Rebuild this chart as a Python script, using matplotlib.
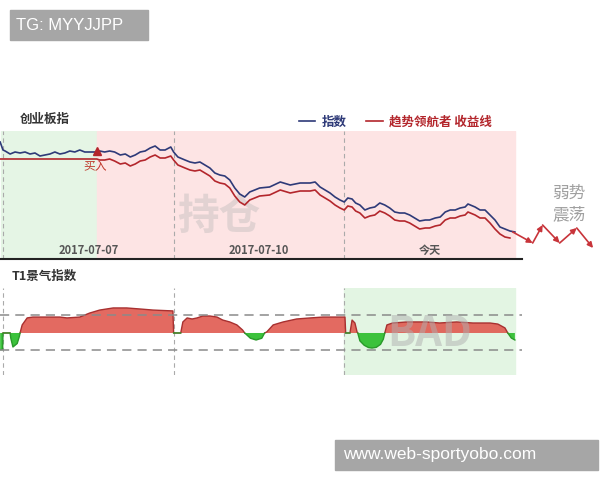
import matplotlib
matplotlib.use("Agg")
import matplotlib.pyplot as plt
import numpy as np
from matplotlib.patches import Rectangle

plt.rcParams["font.family"] = ["Noto Sans CJK SC", "DejaVu Sans"]

# minutes since the open of the first day shown (3 sessions x 240 min)
day_ticks = [120, 360, 600]
day_labels = ["2017-07-07", "2017-07-10", "今天"]
day_bounds = [0, 240, 480]
buy_minute = 132

index_t = [-4, 0, 3, 10, 17, 24, 31, 38, 45, 52, 59, 66, 73, 80, 87, 94, 101, 108, 115,
           122, 132, 136, 143, 150, 157, 165, 172, 179, 186, 193, 200, 207, 214, 221, 228,
           236, 240, 246, 256, 263, 270, 277, 284, 291, 298, 305, 312, 319, 326, 333, 340,
           347, 354, 361, 375, 390, 404, 418, 432, 439, 446, 460, 467, 474, 480, 485, 491,
           496, 502, 509, 516, 523, 530, 537, 544, 551, 558, 565, 572, 579, 586, 594, 600,
           608, 615, 622, 629, 636, 643, 650, 654, 664, 671, 678, 685, 692, 699, 706, 713, 720]
index_val = [117, 109, 108, 105, 107, 106, 107, 105, 106, 103, 104, 105, 107, 105, 106, 108,
             107, 109, 107, 107, 107, 108, 107, 108, 107, 104, 105, 102, 104, 107, 108, 111,
             113, 109, 109, 112, 107, 102, 99, 97, 96, 97, 94, 91, 86, 84, 83, 79, 71, 65,
             62, 67, 69, 71, 72, 77, 74, 76, 76, 77, 72, 66, 62, 59, 57, 61, 60, 56, 54, 49,
             51, 52, 56, 54, 51, 47, 46, 46, 44, 41, 38, 39, 39, 41, 42, 47, 49, 49, 51, 52,
             55, 52, 49, 49, 44, 39, 32, 30, 28, 27]

strat_t = [-4, 132, 136, 143, 150, 157, 165, 172, 179, 186, 193, 200, 207, 214, 221, 228,
           236, 240, 246, 256, 263, 270, 277, 284, 291, 298, 305, 312, 319, 326, 333, 340,
           347, 354, 361, 375, 390, 404, 418, 432, 439, 446, 460, 467, 474, 480, 485, 491,
           496, 502, 509, 516, 523, 530, 537, 544, 551, 558, 565, 572, 579, 586, 594, 600,
           608, 615, 622, 629, 636, 643, 650, 654, 664, 671, 678, 685, 692, 699, 706, 713]
strat_val = [100, 100, 99, 99, 100, 98, 95, 96, 93, 95, 98, 99, 102, 104, 101, 101, 103, 99,
             94, 91, 89, 88, 89, 86, 83, 78, 76, 75, 71, 63, 57, 54, 59, 61, 63, 64, 69, 66,
             68, 68, 69, 64, 58, 54, 51, 49, 53, 52, 48, 46, 41, 43, 44, 48, 46, 43, 39, 38,
             38, 36, 33, 30, 31, 31, 33, 34, 39, 41, 41, 43, 44, 47, 44, 41, 41, 36, 30, 25,
             22, 21]

# projected "weak oscillation" path after today
proj_t = [717, 745, 759, 783, 807, 830]
proj_val = [27, 16, 34, 16, 31, 11]

# T1 sentiment index, +-1 are the thresholds
t1_t = [-4, -0.5, 0, 10, 11, 14, 20, 23, 24, 27, 34, 42, 80, 90, 108, 122, 136, 155, 174,
        193, 211, 239, 240, 250, 253, 259, 266, 273, 281, 291, 301, 309, 319, 329, 337,
        340, 348, 356, 364, 368, 371, 380, 394, 413, 432, 450, 470, 481, 482, 488, 491,
        495, 498, 499, 502, 508, 514, 519, 525, 531, 535, 537, 540, 548, 568, 596, 614,
        638, 661, 685, 696, 706, 710, 715, 720]
t1_val = [-0.95, -0.95, 0, 0, -0.3, -0.8, -0.6, -0.2, 0, 0.46, 0.86, 0.91, 0.91, 0.86,
          0.91, 1.14, 1.31, 1.43, 1.43, 1.37, 1.31, 1.26, 0, 0, 0.63, 0.86, 0.8, 0.86,
          0.97, 0.97, 0.91, 0.74, 0.63, 0.46, 0.17, 0, -0.3, -0.4, -0.3, 0, 0.06, 0.46,
          0.63, 0.8, 0.86, 0.91, 0.91, 0.91, 0, 0, 0.74, 0.57, 0.06, 0, -0.45, -0.7, -0.83,
          -0.86, -0.82, -0.65, -0.35, 0, 0.46, 0.57, 0.63, 0.63, 0.57, 0.63, 0.57, 0.57,
          0.51, 0.29, 0, -0.29, -0.4]

NAVY = "#2e3a78"
DARKRED = "#b3262c"

fig = plt.figure(figsize=(6, 4.8), dpi=100)

# ---- top panel: index vs strategy ----
ax = fig.add_axes([0, 1 - 259 / 480, 522 / 600, 128 / 480])
ax.set_xlim(-4.2, 730)
ax.set_ylim(0, 128)
ax.axvspan(-2.8, buy_minute, color="#e5f5e5", zorder=0)
ax.axvspan(buy_minute, 720, color="#fde4e4", zorder=0)
for b in day_bounds:
    ax.axvline(b, color="#aaaaaa", linestyle=(0, (4, 3)), linewidth=0.8, zorder=1)
ax.text(304, 42, "持仓", fontsize=30, fontweight="bold", color="#e2d2d2",
        ha="center", va="center", zorder=1)
ax.plot(index_t, index_val, color=NAVY, linewidth=1.2, label="指数", zorder=3)
ax.plot(strat_t, strat_val, color=DARKRED, linewidth=1.2, label="趋势领航者 收益线", zorder=3)
ax.plot([buy_minute], [108], marker="^", color=DARKRED, markersize=6, zorder=4)
ax.text(buy_minute - 3, 92, "买入", color="#c0392b", fontsize=8.5, ha="center",
        va="center", zorder=4)
for i in range(len(proj_t) - 1):
    ax.annotate("", xy=(proj_t[i + 1], proj_val[i + 1]), xytext=(proj_t[i], proj_val[i]),
                arrowprops=dict(arrowstyle="-|>", color="#c8343a", lw=1.2,
                                shrinkA=0, shrinkB=0, mutation_scale=8),
                annotation_clip=False)
ax.text(796, 55, "弱势\n震荡", color="#a0a0a0", fontsize=12, ha="center",
        va="center", linespacing=1.3, clip_on=False)
for side in ["top", "left", "right"]:
    ax.spines[side].set_visible(False)
ax.spines["bottom"].set_color("#222222")
ax.spines["bottom"].set_linewidth(1.5)
ax.set_yticks([])
ax.set_xticks(day_ticks)
ax.set_xticklabels(day_labels, fontsize=8, fontweight="bold", color="#555555")
ax.tick_params(axis="x", length=0, pad=-10.5)
ax.legend(loc="center right", bbox_to_anchor=(503 / 600, 1 - 122 / 480),
          bbox_transform=fig.transFigure, ncol=2, frameon=False, handlelength=1.3,
          columnspacing=1.6, handletextpad=0.5, labelcolor="linecolor",
          prop={"size": 9, "weight": "bold"})
fig.text(20 / 600, 1 - 119 / 480, "创业板指", fontsize=9, fontweight="bold",
         color="#333333", va="center")

# ---- bottom panel: T1 sentiment index ----
bx = fig.add_axes([0, 1 - 375 / 480, 522 / 600, 87 / 480])
bx.set_xlim(-4.2, 730)
bx.set_ylim(-2.4, 2.57)
bx.axvspan(480, 720, color="#e3f5e3", zorder=0)
for b in day_bounds:
    bx.axvline(b, color="#aaaaaa", linestyle=(0, (4, 3)), linewidth=0.8, zorder=1)
for h in (1, -1):
    bx.axhline(h, color="#8a8a8a", linestyle=(0, (6, 4)), linewidth=1.1, zorder=4)
t = np.array(t1_t, dtype=float)
v = np.array(t1_val, dtype=float)
bx.fill_between(t, v, 0, where=v >= 0, interpolate=True, color="#e05a50",
                alpha=0.9, linewidth=0, zorder=2)
bx.fill_between(t, v, 0, where=v <= 0, interpolate=True, color="#3cc23c",
                linewidth=0, zorder=2)
bx.plot(t, np.where(v >= 0, v, np.nan), color="#a83030", linewidth=1.0, zorder=3)
bx.plot(t, np.where(v <= 0, v, np.nan), color="#2a9a2a", linewidth=1.0, zorder=3)
bx.text(600, -0.05, "BAD", fontsize=30, fontweight="bold", color="#b0b0b0", alpha=0.5,
        ha="center", va="center", zorder=5)
bx.axis("off")
fig.text(12 / 600, 1 - 276 / 480, "T1景气指数", fontsize=9, fontweight="bold",
         color="#333333", va="center")

# ---- watermark boxes ----
fig.patches.append(Rectangle((10 / 600, 1 - 40 / 480), 138 / 600, 30 / 480,
                             transform=fig.transFigure, color="#a6a6a6", zorder=10))
fig.text(16 / 600, 1 - 25 / 480, "TG: MYYJJPP", fontsize=12, color="white",
         family="Liberation Sans", va="center", zorder=11)
fig.patches.append(Rectangle((335 / 600, 1 - 470 / 480), 263 / 600, 30 / 480,
                             transform=fig.transFigure, color="#a6a6a6", zorder=10))
fig.text(343 / 600, 1 - 455 / 480, "www.web-sportyobo.com", fontsize=12.5, color="white",
         family="Liberation Sans", va="center", zorder=11)

fig.savefig("out.png", dpi=100)
plt.close(fig)
